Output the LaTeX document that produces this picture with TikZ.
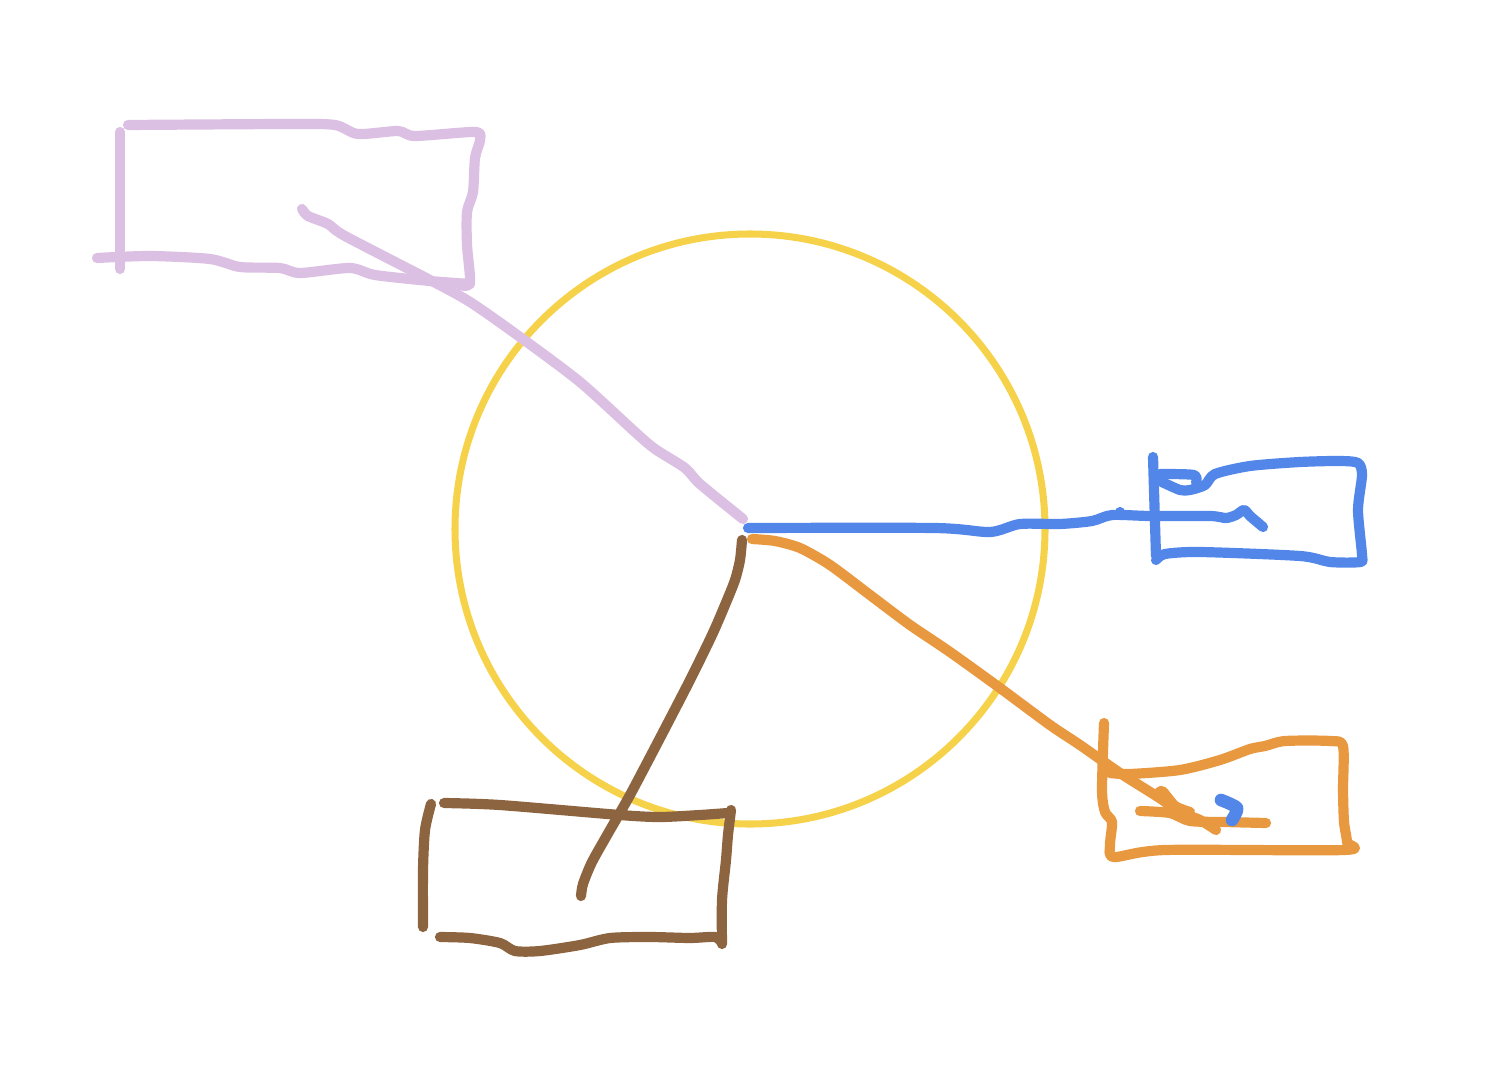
\documentclass[tikz,border=0pt]{standalone}
\begin{document}
\begin{tikzpicture}[x=0.01cm,y=-0.01cm,
  pen/.style={line width=2.9pt,line cap=round,line join=round},
  thin pen/.style={line width=2pt},
  lilac/.style={pen,draw=lilacc},
  bluepen/.style={pen,draw=bluec},
  orangepen/.style={pen,draw=orangec},
  brownpen/.style={pen,draw=brownc},
  sm/.style={smooth,tension=0.45}]
\definecolor{yellowc}{HTML}{F6D24A}
\definecolor{lilacc}{HTML}{DBC0E3}
\definecolor{bluec}{HTML}{5287E9}
\definecolor{orangec}{HTML}{E8983E}
\definecolor{brownc}{HTML}{8D6440}
\useasboundingbox (0,0) rectangle (1488,1076);
% hub circle
\coordinate (hub) at (750,529);
\draw[yellowc,thin pen] (hub) circle (295);
% lilac box
\draw[lilac] plot[sm] coordinates {(128,125) (290,124) (335,125) (358,134) (398,131) (415,136) (475,132) (480,140) (475,158) (473,192) (467,212) (467,245) (470,283) (460,285)};
\draw[lilac] plot[sm] coordinates {(97,258) (150,256) (210,259) (240,267) (280,268) (300,273) (350,268) (375,275) (430,281) (470,284)};
\draw[lilac] (120,132) -- (120,269);
% lilac connector
\draw[lilac] plot[sm] coordinates {(302,209) (308,216) (328,224) (345,236) (430,280) (470,302) (520,337) (580,382) (635,432) (655,449) (685,468) (700,484) (743,519)};
% blue connector
\draw[bluepen] plot[sm] coordinates {(748,528) (935,528) (990,532) (1020,524) (1060,524) (1092,521) (1112,515) (1150,516) (1210,516) (1226,518) (1236,515) (1244,510) (1250,516) (1263,527)};
\draw[bluepen] (1120,512) -- (1120,515);
% blue box
\draw[bluepen] (1153,457) -- (1156,556);
\draw[bluepen] plot[sm] coordinates {(1156,560) (1165,554) (1200,552) (1300,556) (1330,562) (1360,562) (1362,555) (1358,510) (1362,475) (1358,463) (1340,461) (1300,462) (1250,466) (1215,474) (1205,485) (1190,490) (1180,490) (1162,482)};
\draw[bluepen] plot[sm] coordinates {(1160,474) (1194,475) (1196,483)};
% orange connector
\draw[orangepen] plot[sm] coordinates {(752,539) (775,541) (800,548) (830,565) (870,595) (910,625) (950,652) (1000,688) (1050,725) (1080,745) (1120,773) (1158,797) (1180,812) (1200,820) (1216,830)};
% orange box
\draw[orangepen] plot[sm] coordinates {(1104,723) (1102,790) (1105,812) (1112,822) (1110,845) (1114,857) (1165,850) (1344,850) (1347,842) (1344,822) (1343,790) (1343,746) (1330,741) (1285,741) (1265,746) (1250,749) (1220,760) (1180,770) (1130,774) (1110,773)};
\draw[orangepen] plot[sm] coordinates {(1140,811) (1170,813) (1190,821) (1225,822) (1266,823)};
\draw[orangepen] plot[sm] coordinates {(1157,796) (1162,791) (1175,806) (1190,812)};
% blue blob
\draw[bluepen,line width=3.6pt] plot[sm] coordinates {(1221,800) (1237,808) (1232,820)};
% brown connector
\draw[brownpen] plot[sm] coordinates {(742,540) (740,560) (735,580) (725,605) (712,635) (690,680) (660,738) (630,795) (610,830) (592,862) (583,884) (581,896)};
% brown box
\draw[brownpen] plot[sm] coordinates {(444,803) (500,805) (620,815) (660,817) (700,815) (728,813)};
\draw[brownpen] plot[sm] coordinates {(431,804) (425,830) (423,870) (423,927)};
\draw[brownpen] plot[sm] coordinates {(440,937) (470,938) (500,943) (515,951) (540,951) (580,945) (610,938) (650,937) (690,938) (715,937) (722,943)};
\draw[brownpen] plot[sm] coordinates {(731,810) (728,835) (726,860) (722,900) (722,944)};
\end{tikzpicture}
\end{document}
